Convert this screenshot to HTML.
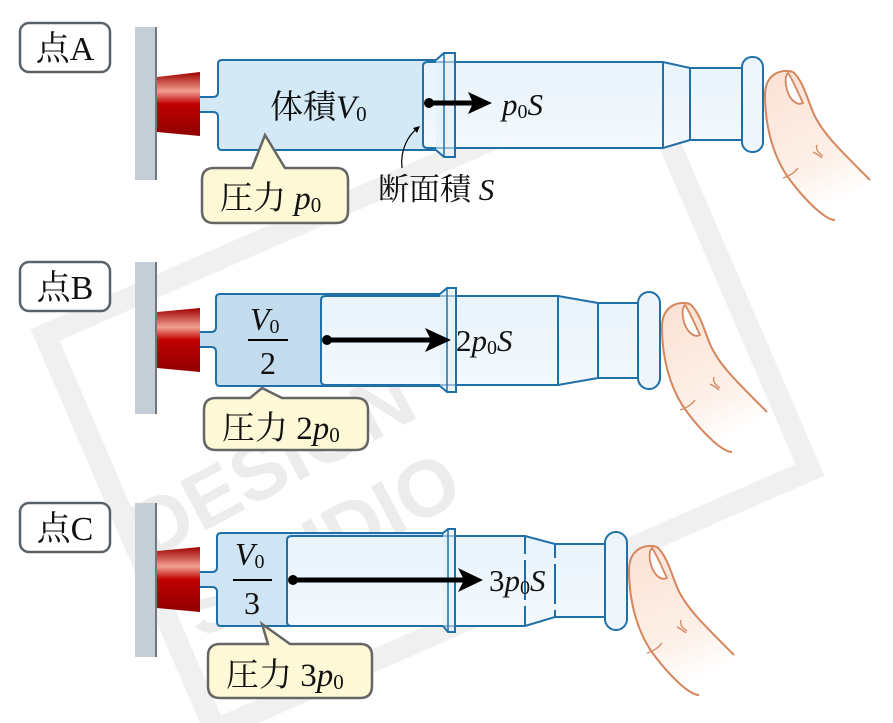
<!DOCTYPE html>
<html><head><meta charset="utf-8"><style>
html,body{margin:0;padding:0;background:#fff}
svg{display:block}
text{font-family:"Liberation Serif","Noto Serif CJK SC",serif;fill:#111}
.i{font-style:italic}
.wm{font-family:"Liberation Sans",sans-serif;font-weight:bold;fill:#ececec}
</style></head><body>
<svg width="893" height="723" viewBox="0 0 893 723" xmlns="http://www.w3.org/2000/svg">
<defs>
<linearGradient id="red" x1="0" y1="0" x2="0" y2="1">
<stop offset="0" stop-color="#a00000"/><stop offset="0.3" stop-color="#f0a090"/><stop offset="0.5" stop-color="#c00000"/><stop offset="1" stop-color="#900000"/>
</linearGradient>
<linearGradient id="inner" x1="0" y1="0" x2="0" y2="1">
<stop offset="0" stop-color="#e8f3fb"/><stop offset="1" stop-color="#f4f9fd"/>
</linearGradient>
<linearGradient id="fing" x1="0" y1="0" x2="0.3" y2="1">
<stop offset="0" stop-color="#fbe1d3"/><stop offset="0.7" stop-color="#fdf0e8"/><stop offset="1" stop-color="#ffffff"/>
</linearGradient>
<g id="finger">
<path d="M0,25 C0,5 15,-2 28,2 C40,12 45,40 52,50 C60,65 75,80 105,110 L70,150 C60,150 40,130 25,110 C10,90 0,60 0,25Z" fill="url(#fing)" stroke="none"/>
<path d="M28,2 C40,12 45,40 52,50 C60,65 75,80 105,110" fill="none" stroke="#d6855c" stroke-width="2"/>
<path d="M0,25 C0,5 15,-2 28,2" fill="none" stroke="#d6855c" stroke-width="2"/>
<path d="M0,25 C0,60 10,90 25,110 C40,130 60,150 70,150" fill="none" stroke="#d6855c" stroke-width="2"/>
<path d="M23,3 C28,10 34,25 38,33 C32,36 25,30 22,20 C20,12 20,6 23,3Z" fill="#fff" stroke="#d6855c" stroke-width="1.8"/>
<path d="M18,108 C25,106 30,102 33,98 M52,75 C50,80 55,84 58,86 M48,82 C52,84 55,86 57,88" fill="none" stroke="#d6855c" stroke-width="1.3"/>
</g>
</defs>

<!-- watermark -->
<g>
<polygon points="45,335 640,75 810,470 215,730" fill="none" stroke="#f0f0f0" stroke-width="22"/>
<text x="150" y="560" transform="rotate(-28 150 560)" font-size="80" class="wm">DESIGN</text>
<text x="200" y="640" transform="rotate(-28 200 640)" font-size="80" class="wm">STUDIO</text>
</g>

<!-- labels 点 -->
<g>
<rect x="20" y="23" width="90" height="49" rx="9" fill="#fff" stroke="#5a6268" stroke-width="2.5"/>
<text x="65" y="60" font-size="34" text-anchor="middle">点A</text>
<rect x="20" y="262" width="90" height="49" rx="9" fill="#fff" stroke="#5a6268" stroke-width="2.5"/>
<text x="65" y="299" font-size="34" text-anchor="middle">点B</text>
<rect x="20" y="503" width="90" height="49" rx="9" fill="#fff" stroke="#5a6268" stroke-width="2.5"/>
<text x="65" y="540" font-size="34" text-anchor="middle">点C</text>
</g>

<!-- ROW A -->
<rect x="135" y="27" width="22" height="153" fill="#c5ced6"/><line x1="156" y1="27" x2="156" y2="180" stroke="#6d7880" stroke-width="2"/>
<polygon points="157,77 200,72 200,136 157,132" fill="url(#red)"/>
<path d="M200,97 H213 Q218,97 218,92 V64 Q218,60 222,60 H436 V150 H222 Q218,150 218,146 V117 Q218,112 213,112 H200" fill="#d3e9f6" stroke="#1f6fa8" stroke-width="2"/>
<path d="M423,66 Q423,62 428,62 H663 L690,68 H745 V140 H690 L663,148 H428 Q423,148 423,144Z" fill="url(#inner)" stroke="#1f6fa8" stroke-width="2"/>
<line x1="663" y1="62" x2="663" y2="148" stroke="#1f6fa8" stroke-width="2"/>
<line x1="690" y1="68" x2="690" y2="140" stroke="#1f6fa8" stroke-width="2"/>
<path d="M436,60 L444,53 H455 V157 H444 L436,150" fill="#e3f0f9" fill-opacity="0.6" stroke="#1f6fa8" stroke-width="2"/>
<line x1="444" y1="53" x2="444" y2="157" stroke="#1f6fa8" stroke-width="1.5"/>
<rect x="742" y="57" width="21" height="95" rx="10" fill="#eef6fc" stroke="#1f6fa8" stroke-width="2"/>
<use href="#finger" x="765" y="70"/>
<text x="270" y="118" font-size="33">体積<tspan class="i">V</tspan><tspan font-size="21" dy="3">0</tspan></text>
<circle cx="429" cy="103" r="5" fill="#000"/>
<line x1="429" y1="103" x2="480" y2="103" stroke="#000" stroke-width="5"/>
<polygon points="468,92 492,103 468,114 473,103" fill="#000"/>
<text x="502" y="115" font-size="31"><tspan class="i">p</tspan><tspan font-size="20" dy="3">0</tspan><tspan class="i" dy="-3">S</tspan></text>
<path d="M402,168 C400,150 408,135 418,128" fill="none" stroke="#000" stroke-width="1.2"/>
<polygon points="420,126 413,128 417,133" fill="#000"/>
<text x="378" y="200" font-size="31">断面積 <tspan class="i">S</tspan></text>
<path d="M215,168 H252 L265,135 L285,168 H336 Q348,168 348,180 V211 Q348,223 336,223 H214 Q202,223 202,211 V180 Q202,168 214,168Z" fill="#fdf8d6" stroke="#666" stroke-width="2.5"/>
<text x="220" y="209" font-size="33">圧力 <tspan class="i">p</tspan><tspan font-size="21" dy="3">0</tspan></text>

<!-- ROW B -->
<rect x="135" y="262" width="22" height="152" fill="#c5ced6"/><line x1="156" y1="262" x2="156" y2="414" stroke="#6d7880" stroke-width="2"/>
<polygon points="157,312 200,308 200,372 157,368" fill="url(#red)"/>
<path d="M200,332 H211 Q216,332 216,327 V298 Q216,294 220,294 H440 V386 H220 Q216,386 216,382 V352 Q216,347 211,347 H200" fill="#c3ddee" stroke="#1f6fa8" stroke-width="2"/>
<path d="M321,300 Q321,296 326,296 H558 L598,303 H640 V378 H598 L558,385 H326 Q321,385 321,381Z" fill="url(#inner)" stroke="#1f6fa8" stroke-width="2"/>
<line x1="558" y1="296" x2="558" y2="385" stroke="#1f6fa8" stroke-width="2"/>
<line x1="598" y1="303" x2="598" y2="378" stroke="#1f6fa8" stroke-width="2"/>
<path d="M440,294 L447,288 H456 V392 H447 L440,386" fill="#e3f0f9" fill-opacity="0.6" stroke="#1f6fa8" stroke-width="2"/>
<line x1="447" y1="288" x2="447" y2="392" stroke="#1f6fa8" stroke-width="1.5"/>
<rect x="638" y="292" width="22" height="97" rx="11" fill="#eef6fc" stroke="#1f6fa8" stroke-width="2"/>
<use href="#finger" x="662" y="302"/>
<text x="250" y="330" font-size="32"><tspan class="i">V</tspan><tspan font-size="20" dy="3">0</tspan></text>
<line x1="248" y1="340" x2="288" y2="340" stroke="#000" stroke-width="2"/>
<text x="268" y="374" font-size="32" text-anchor="middle">2</text>
<circle cx="327" cy="340" r="5" fill="#000"/>
<line x1="327" y1="340" x2="440" y2="340" stroke="#000" stroke-width="5"/>
<polygon points="425,328 451,340 425,352 431,340" fill="#000"/>
<text x="456" y="351" font-size="31">2<tspan class="i">p</tspan><tspan font-size="20" dy="3">0</tspan><tspan class="i" dy="-3">S</tspan></text>
<path d="M216,398 H250 L262,388 L282,398 H356 Q368,398 368,410 V438 Q368,450 356,450 H216 Q204,450 204,438 V410 Q204,398 216,398Z" fill="#fdf8d6" stroke="#666" stroke-width="2.5"/>
<text x="222" y="439" font-size="33">圧力 2<tspan class="i">p</tspan><tspan font-size="21" dy="3">0</tspan></text>

<!-- ROW C -->
<rect x="135" y="503" width="22" height="154" fill="#c5ced6"/><line x1="156" y1="503" x2="156" y2="657" stroke="#6d7880" stroke-width="2"/>
<polygon points="157,551 200,547 200,612 157,608" fill="url(#red)"/>
<path d="M200,572 H212 Q217,572 217,567 V537 Q217,533 221,533 H443 V626 H221 Q217,626 217,622 V592 Q217,587 212,587 H200" fill="#cfe5f4" stroke="#1f6fa8" stroke-width="2"/>
<path d="M287,540 Q287,536 292,536 H525 L555,544 H607 V617 H555 L525,626 H292 Q287,626 287,622Z" fill="url(#inner)" stroke="#1f6fa8" stroke-width="2"/>
<line x1="525" y1="536" x2="525" y2="626" stroke="#1f6fa8" stroke-width="2" stroke-dasharray="18,6,40,6,30"/>
<line x1="555" y1="544" x2="555" y2="617" stroke="#1f6fa8" stroke-width="2" stroke-dasharray="14,6,40,6,30"/>
<path d="M443,533 L448,529 H455 V632 H448 L443,626" fill="#e3f0f9" fill-opacity="0.6" stroke="#1f6fa8" stroke-width="2"/>
<line x1="448" y1="529" x2="448" y2="632" stroke="#1f6fa8" stroke-width="1.5"/>
<rect x="605" y="532" width="22" height="98" rx="11" fill="#eef6fc" stroke="#1f6fa8" stroke-width="2"/>
<use href="#finger" x="629" y="545"/>
<text x="235" y="565" font-size="32"><tspan class="i">V</tspan><tspan font-size="20" dy="3">0</tspan></text>
<line x1="233" y1="580" x2="272" y2="580" stroke="#000" stroke-width="2"/>
<text x="252" y="614" font-size="32" text-anchor="middle">3</text>
<circle cx="293" cy="580" r="5" fill="#000"/>
<line x1="293" y1="580" x2="470" y2="580" stroke="#000" stroke-width="5"/>
<polygon points="458,568 483,580 458,592 464,580" fill="#000"/>
<text x="489" y="591" font-size="31">3<tspan class="i">p</tspan><tspan font-size="20" dy="3">0</tspan><tspan class="i" dy="-3">S</tspan></text>
<path d="M220,644 H268 L262,624 L290,644 H360 Q372,644 372,656 V686 Q372,698 360,698 H220 Q208,698 208,686 V656 Q208,644 220,644Z" fill="#fdf8d6" stroke="#666" stroke-width="2.5"/>
<text x="226" y="686" font-size="33">圧力 3<tspan class="i">p</tspan><tspan font-size="21" dy="3">0</tspan></text>
</svg>
</body></html>
